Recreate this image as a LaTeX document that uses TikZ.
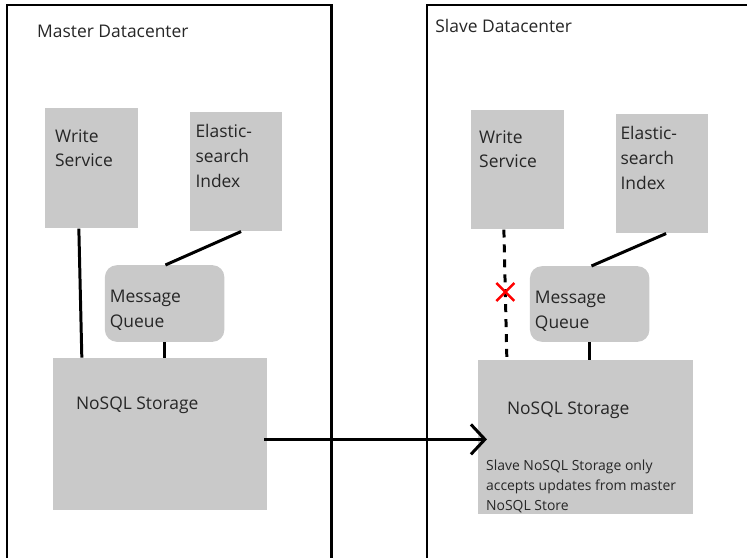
\documentclass[tikz,border=0pt]{standalone}
\usepackage{fontspec}
\setmainfont{Open Sans}
\usepackage{tikz}
\usetikzlibrary{arrows.meta}
\usetikzlibrary{positioning}

\tikzset{
  part/.style={fill=black!21, draw=none, inner sep=0pt, anchor=north west},
  words/.style={text=black!85, align=left, anchor=north west, inner sep=0pt,
    font=\fontsize{17.5}{25}\selectfont},
  note/.style={words, font=\fontsize{14}{20}\selectfont},
  wire/.style={line width=3pt},
  hall/.style={line width=2.5pt},
}

\begin{document}
\begin{tikzpicture}[x=1pt,y=-1pt]
\draw[opacity=0] (0,0) rectangle (748,557);

% master side
\draw[hall] (7,560) -- (7,5) -- (333,5) -- (333,560);
\node[words] (mtitle) at (37,25) {Master Datacenter};

\node[part, minimum width=93, minimum height=121] (mws) at (45,108) {};
\node[part, minimum width=93, minimum height=120] (mes) at (190,112) {};
\node[part, minimum width=120, minimum height=77, rounded corners=12pt] (mmq) at (105,266) {};
\node[part, minimum width=215, minimum height=153] (mns) at (53,359) {};

\node[words] (mwst) at (55,129.5) {Write\\Service};
\node[words] (mest) at (196,124.5) {Elastic-\\search\\Index};
\node[words] (mmqt) at (110,291) {Message\\Queue};
\node[words] (mnst) at (76,398) {NoSQL Storage};

\draw[wire] ([xshift=34pt]mws.south west) -- ([xshift=29pt]mns.north west);
\draw[wire] ([xshift=52pt]mes.south west) -- ([xshift=61pt]mmq.north west);
\draw[wire] (mmq.south) -- (mmq.south |- mns.north);

% slave side
\draw[hall] (429,560) -- (429,5) -- (750,5);
\node[words] (stitle) at (437,19) {Slave Datacenter};

\node[part, minimum width=93, minimum height=120] (sws) at (473,110) {};
\node[part, minimum width=93, minimum height=120] (ses) at (618,114) {};
\node[part, minimum width=120, minimum height=76, rounded corners=12pt] (smq) at (532,267) {};
\node[part, minimum width=216, minimum height=155] (sns) at (480,361) {};

\node[words] (swst) at (481,130.5) {Write\\Service};
\node[words] (sest) at (623,126.5) {Elastic-\\search\\Index};
\node[words] (smqt) at (537,292) {Message\\Queue};
\node[words] (snst) at (509,403) {NoSQL Storage};
\node[note] (snote) at (488,461.5) {Slave NoSQL Storage only\\accepts updates from master\\NoSQL Store};

\draw[wire, dash pattern=on 8pt off 7pt] ([xshift=33pt]sws.south west)
  -- coordinate[pos=0.48] (cut) ([xshift=29pt]sns.north west);
\draw[wire] ([xshift=51pt]ses.south west) -- ([xshift=62pt]smq.north west);
\draw[wire] (smq.south) -- (smq.south |- sns.north);
\draw[red, line width=2.5pt] ([shift={(-9pt,-9pt)}]cut) -- ([shift={(9pt,9pt)}]cut);
\draw[red, line width=2.5pt] ([shift={(-9pt,9pt)}]cut) -- ([shift={(9pt,-9pt)}]cut);

% replication
\coordinate (tip) at ([xshift=9pt,yshift=-5.5pt]mns.east -| sns.west);
\draw[wire, -{Straight Barb[length=14pt, width=30pt, line width=3pt]}]
  ([xshift=-3pt,yshift=-5.5pt]mns.east) -- (tip);
\end{tikzpicture}
\end{document}
